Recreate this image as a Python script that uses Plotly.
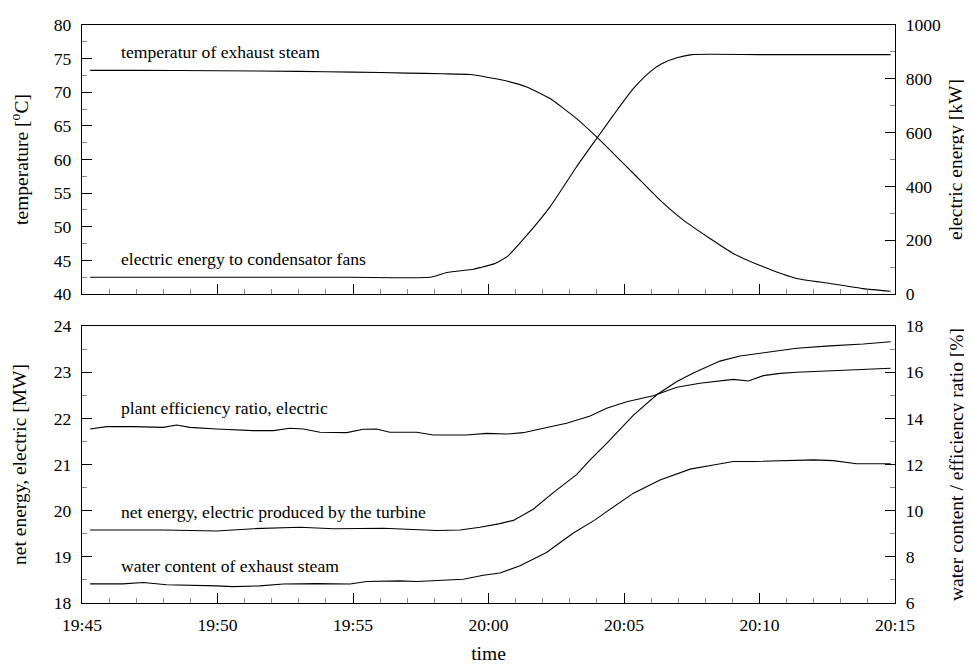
import pandas as pd
import plotly.graph_objects as go
from plotly.subplots import make_subplots

BASE = pd.Timestamp("2024-01-01 19:45:00")

# ---- data (minutes after 19:45, value) ----
temp_min = [0.3, 2.0, 5.0, 8.0, 10.0, 12.0, 13.3, 14.32, 15.55, 16.41, 17.27, 18.25, 18.99,
            19.61, 20.35, 21.33, 22.19, 23.17, 24.03, 25.14, 26.37, 27.6, 28.83, 29.84]
temp_val = [73.25, 73.25, 73.2, 73.1, 73.0, 72.85, 72.75, 72.63, 71.78, 70.79, 69.06, 66.09,
            63.36, 60.89, 57.92, 53.95, 50.98, 48.26, 46.03, 44.04, 42.3, 41.57, 40.8, 40.4]

fan_min = [0.3, 5.0, 10.0, 12.84, 13.46, 14.44, 14.69, 15.2, 15.7, 16.28, 17.27, 18.25,
           18.99, 19.61, 20.35, 20.96, 21.39, 21.95, 22.5, 25.0, 29.84]
fan_val = [62, 62, 62, 62, 80, 92, 98, 112, 140, 203, 324, 473,
           578, 665, 764, 826, 856, 878, 890, 890, 890]

eff_min = [0.3, 0.91, 1.89, 3.0, 3.49, 3.98, 4.97, 6.32, 7.06, 7.67, 8.17, 8.78, 9.77, 10.38,
           10.87, 11.36, 12.35, 12.96, 14.19, 14.93, 15.67, 16.28, 16.9, 17.88, 18.75, 19.36,
           20.1, 21.08, 21.95, 22.8, 24.03, 24.59, 25.14, 25.76, 26.37, 27.6, 28.83, 29.84]
eff_val = [13.54, 13.64, 13.64, 13.61, 13.71, 13.61, 13.54, 13.47, 13.47, 13.57, 13.54, 13.4,
           13.38, 13.53, 13.54, 13.4, 13.4, 13.28, 13.28, 13.35, 13.32, 13.38, 13.54, 13.79,
           14.1, 14.44, 14.72, 14.98, 15.35, 15.52, 15.69, 15.62, 15.85, 15.95, 16.0, 16.07,
           16.14, 16.17]

net_min = [0.3, 3.0, 4.97, 6.32, 8.05, 9.28, 11.12, 12.1, 13.09, 13.95, 14.69, 15.42, 15.92,
           16.65, 17.39, 18.25, 18.75, 19.36, 20.35, 21.21, 21.95, 22.56, 23.54, 24.28,
           25.76, 26.37, 27.6, 28.83, 29.84]
net_val = [19.58, 19.58, 19.56, 19.61, 19.64, 19.61, 19.62, 19.6, 19.57, 19.58, 19.64, 19.72,
           19.79, 20.03, 20.39, 20.78, 21.1, 21.46, 22.07, 22.51, 22.8, 22.98, 23.24, 23.35,
           23.48, 23.52, 23.57, 23.61, 23.66]

water_min = [0.3, 1.5, 2.26, 3.12, 4.97, 5.58, 6.56, 7.43, 8.66, 9.89, 10.5, 11.73, 12.35, 13.33,
             14.07, 14.81, 15.42, 16.16, 17.14, 18.13, 18.93, 19.36, 20.35, 21.33, 22.44, 23.3,
             24.03, 24.8, 25.76, 26.99, 27.72, 28.58, 29.84]
water_val = [6.83, 6.83, 6.89, 6.79, 6.74, 6.71, 6.74, 6.82, 6.84, 6.82, 6.93, 6.96, 6.93, 7.0,
             7.03, 7.2, 7.3, 7.61, 8.19, 9.03, 9.6, 9.96, 10.76, 11.33, 11.8, 11.98, 12.13,
             12.13, 12.17, 12.2, 12.17, 12.03, 12.03]

labels = [
    ("temperatur of exhaust steam", 1.37, 76.0, "y"),
    ("electric energy to condensator fans", 1.37, 45.2, "y"),
    ("plant efficiency ratio, electric", 1.37, 22.23, "y3"),
    ("net energy, electric produced by the turbine", 1.37, 19.98, "y3"),
    ("water content of exhaust steam", 1.37, 18.8, "y3"),
]


def tt(mins):
    return BASE + pd.to_timedelta(pd.Series(mins, dtype=float), unit="m")


FAMILY = "Liberation Serif, Times New Roman, serif"
FONT = dict(family=FAMILY, size=17.6, color="black")
TFONT = dict(family=FAMILY, size=19.5, color="black")
LINE = dict(color="black", width=1.1)
SMOOTH = dict(color="black", width=1.1, shape="spline", smoothing=0.5)
MINOR_COL = "#888888"

fig = make_subplots(rows=2, cols=1, specs=[[{"secondary_y": True}], [{"secondary_y": True}]],
                    shared_xaxes=True)

fig.add_trace(go.Scatter(x=tt(temp_min), y=temp_val, mode="lines", line=SMOOTH), row=1, col=1, secondary_y=False)
fig.add_trace(go.Scatter(x=tt(fan_min), y=fan_val, mode="lines", line=SMOOTH), row=1, col=1, secondary_y=True)
fig.add_trace(go.Scatter(x=tt(net_min), y=net_val, mode="lines", line=LINE), row=2, col=1, secondary_y=False)
fig.add_trace(go.Scatter(x=tt(eff_min), y=eff_val, mode="lines", line=LINE), row=2, col=1, secondary_y=True)
fig.add_trace(go.Scatter(x=tt(water_min), y=water_val, mode="lines", line=LINE), row=2, col=1, secondary_y=True)

xr = [BASE, BASE + pd.Timedelta(minutes=30)]
common_x = dict(range=xr, type="date", domain=[0.0, 1.0], showline=True, linecolor="black",
                linewidth=1.3, mirror=True,
                ticks="inside", ticklen=10, tickwidth=1, tickcolor="black", dtick=300000,
                tick0=BASE, tickformat="%H:%M", showgrid=False, zeroline=False, tickfont=FONT,
                automargin=False,
                minor=dict(dtick=60000, ticks="inside", ticklen=5, tickcolor=MINOR_COL, tickwidth=1,
                           showgrid=False))
fig.update_xaxes(**common_x)
fig.update_xaxes(showticklabels=False, row=1, col=1)
fig.update_xaxes(ticklabelstandoff=6, title=dict(text="time", font=TFONT, standoff=12), row=2, col=1)

common_y = dict(showline=True, linecolor="black", linewidth=1.3, ticks="inside", ticklen=10,
                tickwidth=1, tickcolor="black", showgrid=False, zeroline=False, tickfont=FONT,
                ticklabelstandoff=6, automargin=False)
fig.update_yaxes(**common_y)

fig.update_layout(
    yaxis=dict(range=[40, 80], dtick=5, domain=[0.5346, 1.0],
               minor=dict(dtick=2.5, ticks="inside", ticklen=5, tickcolor=MINOR_COL, tickwidth=1),
               title=dict(text="temperature [<sup>o</sup>C]", font=TFONT, standoff=21)),
    yaxis2=dict(range=[0, 1000], dtick=200, domain=[0.5346, 1.0],
                minor=dict(dtick=100, ticks="inside", ticklen=5, tickcolor=MINOR_COL, tickwidth=1),
                title=dict(text="electric energy [kW]", font=TFONT, standoff=8)),
    yaxis3=dict(range=[18, 24], dtick=1, domain=[0.0, 0.4792],
                minor=dict(dtick=0.5, ticks="inside", ticklen=5, tickcolor=MINOR_COL, tickwidth=1),
                title=dict(text="net energy, electric [MW]", font=TFONT, standoff=21)),
    yaxis4=dict(range=[6, 18], dtick=2, domain=[0.0, 0.4792],
                minor=dict(dtick=1, ticks="inside", ticklen=5, tickcolor=MINOR_COL, tickwidth=1),
                title=dict(text="water content / efficiency ratio [%]", font=TFONT, standoff=26)),
)

for text, m, yv, yref in labels:
    fig.add_annotation(x=BASE + pd.Timedelta(minutes=m), y=yv, xref="x" if yref == "y" else "x2",
                       yref=yref, text=text, showarrow=False, xanchor="left", yanchor="middle",
                       font=FONT)

# the page body adds an 8px offset, so the figure is sized to compensate
fig.update_layout(
    template="none",
    width=964, height=658, showlegend=False,
    margin=dict(l=74, r=77, t=17, b=63, autoexpand=False),
    paper_bgcolor="white", plot_bgcolor="white", font=FONT,
)

fig.write_html("out.html")
